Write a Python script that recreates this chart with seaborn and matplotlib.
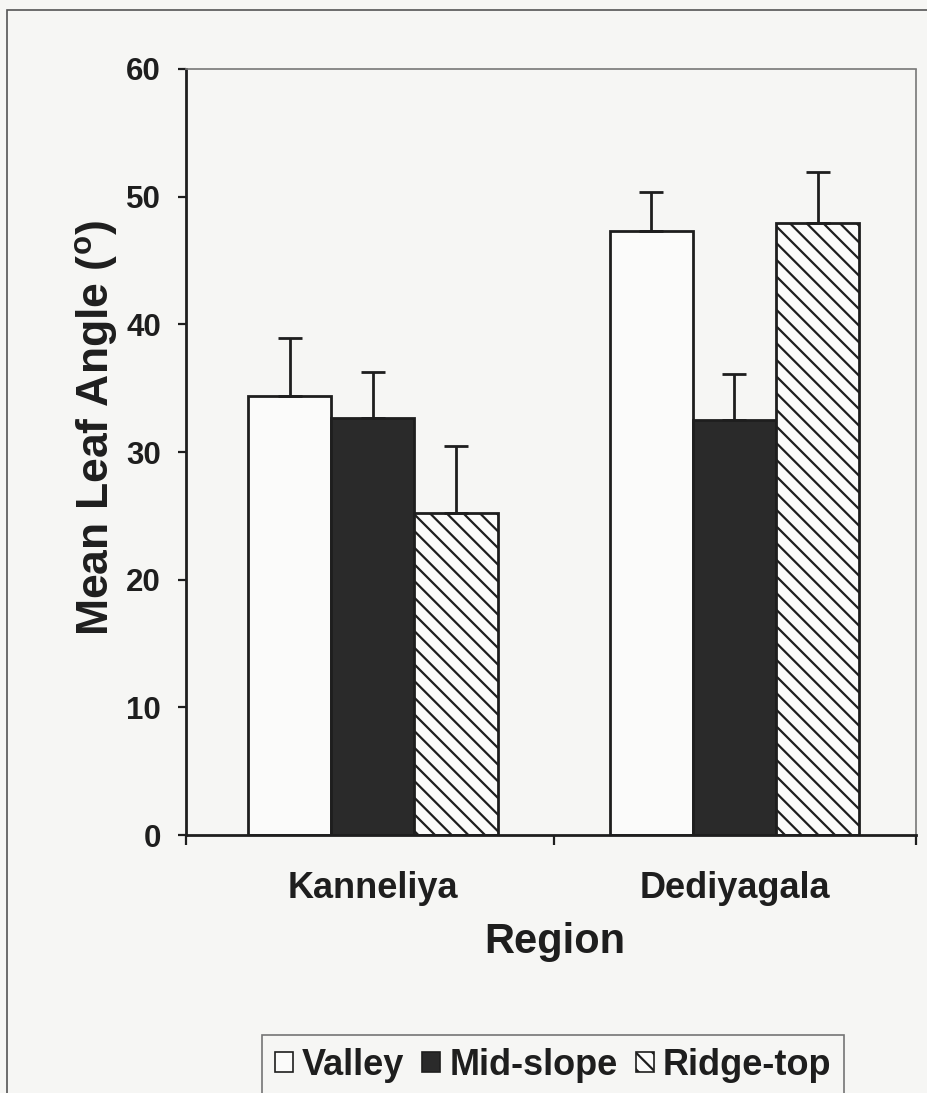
import numpy as np
import pandas as pd
import seaborn as sns
import matplotlib
matplotlib.use("Agg")
import matplotlib.pyplot as plt
from matplotlib.patches import Patch, Rectangle

# Mean leaf angle by region and slope position (upper standard error)
regions = ["Kanneliya", "Dediyagala"]
positions = ["Valley", "Mid-slope", "Ridge-top"]
kanneliya_mean = [34.4, 32.7, 25.2]
dediyagala_mean = [47.3, 32.5, 47.9]
kanneliya_err = [4.5, 3.6, 5.3]
dediyagala_err = [3.1, 3.6, 4.0]
y_ticks = [0, 10, 20, 30, 40, 50, 60]

df = pd.DataFrame({
    "Region": [r for r in regions for _ in positions],
    "Position": positions * len(regions),
    "Angle": kanneliya_mean + dediyagala_mean,
    "Err": kanneliya_err + dediyagala_err,
})

sns.set_theme(style="white")
plt.rcParams["font.family"] = ["Liberation Sans", "DejaVu Sans"]
plt.rcParams["font.weight"] = "bold"
plt.rcParams["mathtext.fontset"] = "custom"
plt.rcParams["mathtext.rm"] = "Liberation Sans:bold"
plt.rcParams["mathtext.bf"] = "Liberation Sans:bold"
plt.rcParams["hatch.linewidth"] = 1.6
plt.rcParams["hatch.color"] = "#1e1e1e"

ink = "#1e1e1e"
paper = "#f6f6f4"
fill = {"Valley": "#fbfbfa", "Mid-slope": "#2a2a2a", "Ridge-top": "#fbfbfa"}
hatches = {"Valley": "", "Mid-slope": "", "Ridge-top": "\\\\"}

fig = plt.figure(figsize=(9.28, 10.93), dpi=100, facecolor=paper)
ax = fig.add_axes([0.2004, 0.2360, 0.7866, 0.7009])
ax.set_facecolor(paper)

sns.barplot(data=df, x="Region", y="Angle", hue="Position", order=regions,
            hue_order=positions, palette=fill, width=0.69, gap=0,
            edgecolor=ink, linewidth=2.0, errorbar=None, legend=False, ax=ax)

# apply hatching and upper-only error bars from the bar geometry
bars = [p for p in ax.patches if isinstance(p, Rectangle)]
for i, pos in enumerate(positions):
    sub = df[df["Position"] == pos].set_index("Region").loc[regions]
    group = bars[i * len(regions):(i + 1) * len(regions)]
    xs = []
    for bar in group:
        bar.set_hatch(hatches[pos])
        xs.append(bar.get_x() + bar.get_width() / 2)
    ax.errorbar(xs, sub["Angle"].values,
                yerr=[np.zeros(len(regions)), sub["Err"].values],
                fmt="none", ecolor=ink, elinewidth=2.0, capsize=8.5,
                capthick=2.0, zorder=1)

ax.set_ylim(0, 60)
ax.set_xlim(-0.517, 1.502)
ax.set_yticks(y_ticks)
ax.set_yticklabels([str(t) for t in y_ticks], fontsize=22.5, fontweight="bold",
                   color=ink)
ax.tick_params(axis="y", direction="out", length=6, width=1.6, pad=12,
               colors=ink, left=True)

ax.set_xticks([0, 1])
ax.set_xticklabels(regions, fontsize=26, fontweight="bold", color=ink)
ax.tick_params(axis="x", which="major", length=0, pad=26)
ax.set_xticks([-0.517, 0.5, 1.502], minor=True)
ax.tick_params(axis="x", which="minor", direction="out", length=7,
               width=1.6, color=ink, bottom=True)

for side in ["left", "bottom"]:
    ax.spines[side].set_color(ink)
    ax.spines[side].set_linewidth(2.0)
for side in ["top", "right"]:
    ax.spines[side].set_color("#777777")
    ax.spines[side].set_linewidth(1.2)
    ax.spines[side].set_linestyle((0, (1, 1)))

ax.set_ylabel(r"Mean Leaf Angle ($^{\mathrm{o}}$)", fontsize=32,
              fontweight="bold", color=ink)
ax.yaxis.set_label_coords(-0.091, 0.531)
ax.set_xlabel("Region", fontsize=30, fontweight="bold", color=ink)
ax.xaxis.set_label_coords(0.505, -0.114)

handles = [Patch(facecolor=fill[p], edgecolor=ink, hatch=hatches[p],
                 linewidth=1.2, label=p) for p in positions]
leg = fig.legend(handles=handles, loc="upper center", ncol=3,
                 bbox_to_anchor=(553 / 928, 1 - 1035 / 1093),
                 prop={"family": "Liberation Sans", "weight": "bold",
                       "size": 26},
                 frameon=True, fancybox=False, handlelength=0.5,
                 handleheight=0.5, handletextpad=0.25, columnspacing=0.5,
                 borderpad=0.35, borderaxespad=0)
leg.get_frame().set_edgecolor("#555555")
leg.get_frame().set_linewidth(1.2)
leg.get_frame().set_facecolor(paper)
for t in leg.get_texts():
    t.set_color(ink)

# outer frame of the figure panel
fig.add_artist(Rectangle((7 / 928, -0.02), 1.05, 1 - 10 / 1093 + 0.02,
                         transform=fig.transFigure, fill=False,
                         edgecolor="#555555", linewidth=1.2))

fig.savefig("out.png", dpi=100, facecolor=paper)
